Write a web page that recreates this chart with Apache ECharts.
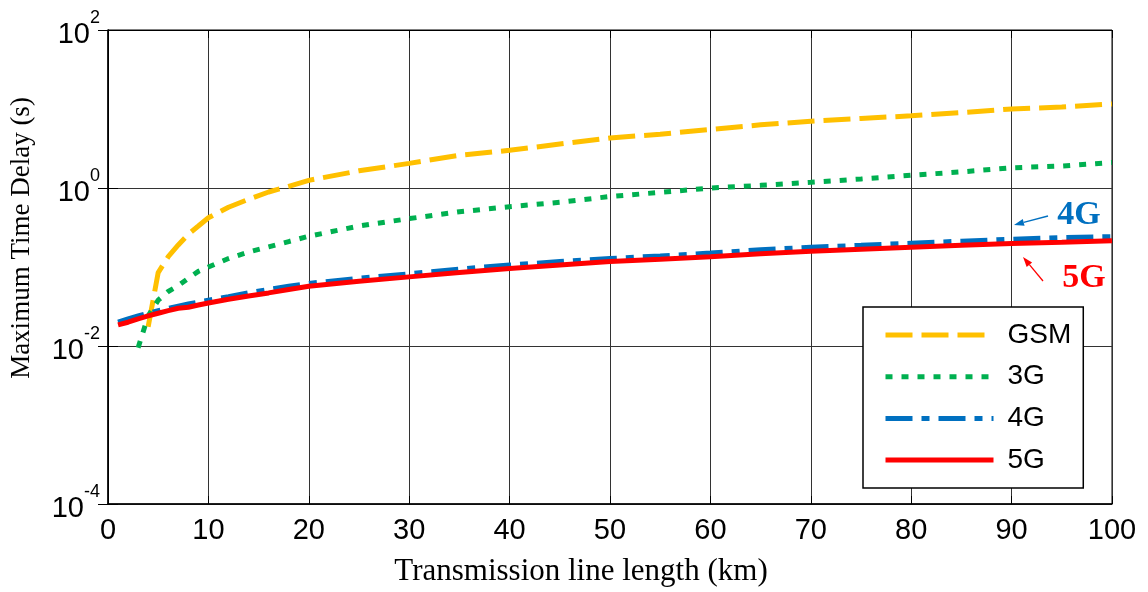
<!DOCTYPE html>
<html>
<head>
<meta charset="utf-8">
<script src="https://cdn.jsdelivr.net/npm/echarts@6/dist/echarts.min.js"></script>
<style>
  html, body { margin: 0; padding: 0; background: #fff; }
  #chart { width: 1148px; height: 592px; }
</style>
</head>
<body>
<div id="chart"></div>
<script>
  // transmission line length (km)
  var km = [1, 2, 3, 4, 5, 6, 7, 8, 9, 10, 12, 14, 16, 18, 20, 25, 30, 35, 40, 45, 50, 55, 60, 65, 70, 75, 80, 85, 90, 95, 100];

  // maximum time delay (s)
  var gsm = [null, null, null, 0.0175, 0.085, 0.135, 0.19, 0.26, 0.33, 0.42, 0.57, 0.72, 0.89, 1.05, 1.25, 1.65, 2.05, 2.6, 3.0, 3.6, 4.3, 4.8, 5.5, 6.3, 7.0, 7.6, 8.2, 9.0, 10.0, 10.6, 11.6];
  var g3 = [null, null, 0.0095, 0.024, 0.038, 0.049, 0.058, 0.072, 0.088, 0.10, 0.128, 0.155, 0.18, 0.21, 0.245, 0.33, 0.41, 0.50, 0.58, 0.66, 0.78, 0.88, 1.0, 1.08, 1.18, 1.3, 1.45, 1.6, 1.8, 1.9, 2.1];
  var g4 = [0.020, 0.022, 0.024, 0.026, 0.028, 0.030, 0.032, 0.034, 0.036, 0.038, 0.042, 0.047, 0.052, 0.057, 0.062, 0.072, 0.082, 0.094, 0.106, 0.117, 0.128, 0.138, 0.15, 0.165, 0.178, 0.188, 0.2, 0.212, 0.225, 0.235, 0.242];
  var g5 = [0.0185, 0.020, 0.022, 0.024, 0.026, 0.028, 0.030, 0.031, 0.033, 0.035, 0.039, 0.043, 0.047, 0.052, 0.057, 0.066, 0.075, 0.085, 0.096, 0.106, 0.117, 0.125, 0.135, 0.147, 0.158, 0.168, 0.178, 0.188, 0.198, 0.205, 0.215];

  var names = ['GSM', '3G', '4G', '5G'];
  var colors = ['#FFC000', '#00B050', '#0070C0', '#FF0000'];
  var dashes = [[27, 9], [7, 9], [27, 9, 8, 9], 'solid'];

  function pairs(ys) {
    return km.map(function (x, i) { return [x, ys[i]]; });
  }

  function arrow(x1, y1, x2, y2, color) {
    var dx = x2 - x1, dy = y2 - y1;
    var len = Math.sqrt(dx * dx + dy * dy);
    var ux = dx / len, uy = dy / len;
    var bx = x2 - ux * 10, by = y2 - uy * 10;
    var px = -uy * 3.5, py = ux * 3.5;
    return [{
      type: 'line',
      shape: { x1: x1, y1: y1, x2: bx, y2: by },
      style: { stroke: color, lineWidth: 1.3 }
    }, {
      type: 'polygon',
      shape: { points: [[x2, y2], [bx + px, by + py], [bx - px, by - py]] },
      style: { fill: color }
    }];
  }

  var chart = echarts.init(document.getElementById('chart'));

  var seriesData = [gsm, g3, g4, g5];
  var series = seriesData.map(function (ys, i) {
    return {
      name: names[i],
      type: 'line',
      symbol: 'none',
      data: pairs(ys),
      lineStyle: { color: colors[i], width: 5, type: dashes[i], cap: 'butt' },
      itemStyle: { color: colors[i] },
      z: 2 + i
    };
  });

  var tickFont = { fontFamily: 'Arial, "Liberation Sans"', fontSize: 29, color: '#000' };
  var serif = '"Times New Roman", "Liberation Serif"';

  var graphics = [
    {
      type: 'text', x: 22, y: 238, rotation: Math.PI / 2,
      style: { text: 'Maximum Time Delay (s)', fontFamily: serif, fontSize: 27, fill: '#000', align: 'center', verticalAlign: 'middle' }
    },
    {
      type: 'text', x: 581, y: 572,
      style: { text: 'Transmission line length (km)', fontFamily: serif, fontSize: 31, fill: '#000', align: 'center', verticalAlign: 'middle' }
    },
    {
      type: 'text', x: 1079, y: 215,
      style: { text: '4G', fontFamily: serif, fontWeight: 'bold', fontSize: 34, fill: '#0070C0', align: 'center', verticalAlign: 'middle' }
    },
    {
      type: 'text', x: 1084, y: 278,
      style: { text: '5G', fontFamily: serif, fontWeight: 'bold', fontSize: 34, fill: '#FF0000', align: 'center', verticalAlign: 'middle' }
    }
  ].concat(arrow(1048, 216, 1014, 225, '#0070C0'), arrow(1043, 281, 1023, 257, '#FF0000'));

  chart.setOption({
    animation: false,
    backgroundColor: '#fff',
    grid: { left: 108, right: 36, top: 30, bottom: 88, show: true, borderColor: '#000', borderWidth: 1 },
    legend: {
      orient: 'vertical',
      left: 863,
      top: 307,
      padding: [13, 12, 13, 20],
      itemWidth: 108,
      itemHeight: 14,
      itemGap: 11.7,
      backgroundColor: '#fff',
      borderColor: '#000',
      borderWidth: 1.5,
      itemStyle: { opacity: 0, borderWidth: 0 },
      lineStyle: { width: 5 },
      textStyle: { fontFamily: 'Arial, "Liberation Sans"', fontSize: 28, color: '#000', lineHeight: 30, padding: [0, 0, 0, 9] },
      data: names
    },
    xAxis: [{
      type: 'value',
      min: 0,
      max: 100,
      interval: 10,
      axisLine: { lineStyle: { color: '#000', width: 1.5 } },
      axisTick: { inside: true, length: 8, lineStyle: { color: '#000' } },
      axisLabel: Object.assign({ margin: 12 }, tickFont),
      splitLine: { show: true, lineStyle: { color: '#333', width: 1 } }
    }, {
      type: 'value',
      position: 'top',
      min: 0,
      max: 100,
      interval: 10,
      axisLine: { show: true, lineStyle: { color: '#000' } },
      axisTick: { show: true, inside: true, length: 8, lineStyle: { color: '#000' } },
      axisLabel: { show: false },
      splitLine: { show: false }
    }],
    yAxis: [{
      type: 'log',
      logBase: 100,
      min: 1e-4,
      max: 100,
      axisLine: { show: true, lineStyle: { color: '#000', width: 1.5 } },
      axisTick: { show: true, inside: true, length: 10, lineStyle: { color: '#000' } },
      minorTick: { show: false },
      axisLabel: {
        margin: 8,
        formatter: function (v) {
          var e = Math.round(Math.log(v) / Math.LN10);
          return '{b|10}{s|' + e + '}';
        },
        rich: {
          b: { fontFamily: 'Arial, "Liberation Sans"', fontSize: 29, color: '#000', padding: [10, 0, 0, 0] },
          s: { fontFamily: 'Arial, "Liberation Sans"', fontSize: 18, color: '#000', padding: [0, 0, 24, 0] }
        }
      },
      splitLine: { show: true, lineStyle: { color: '#333', width: 1 } }
    }, {
      type: 'log',
      logBase: 100,
      min: 1e-4,
      max: 100,
      position: 'right',
      axisLine: { show: true, lineStyle: { color: '#000' } },
      axisTick: { show: true, inside: true, length: 10, lineStyle: { color: '#000' } },
      axisLabel: { show: false },
      splitLine: { show: false }
    }],
    series: series,
    graphic: graphics
  });
</script>
</body>
</html>
